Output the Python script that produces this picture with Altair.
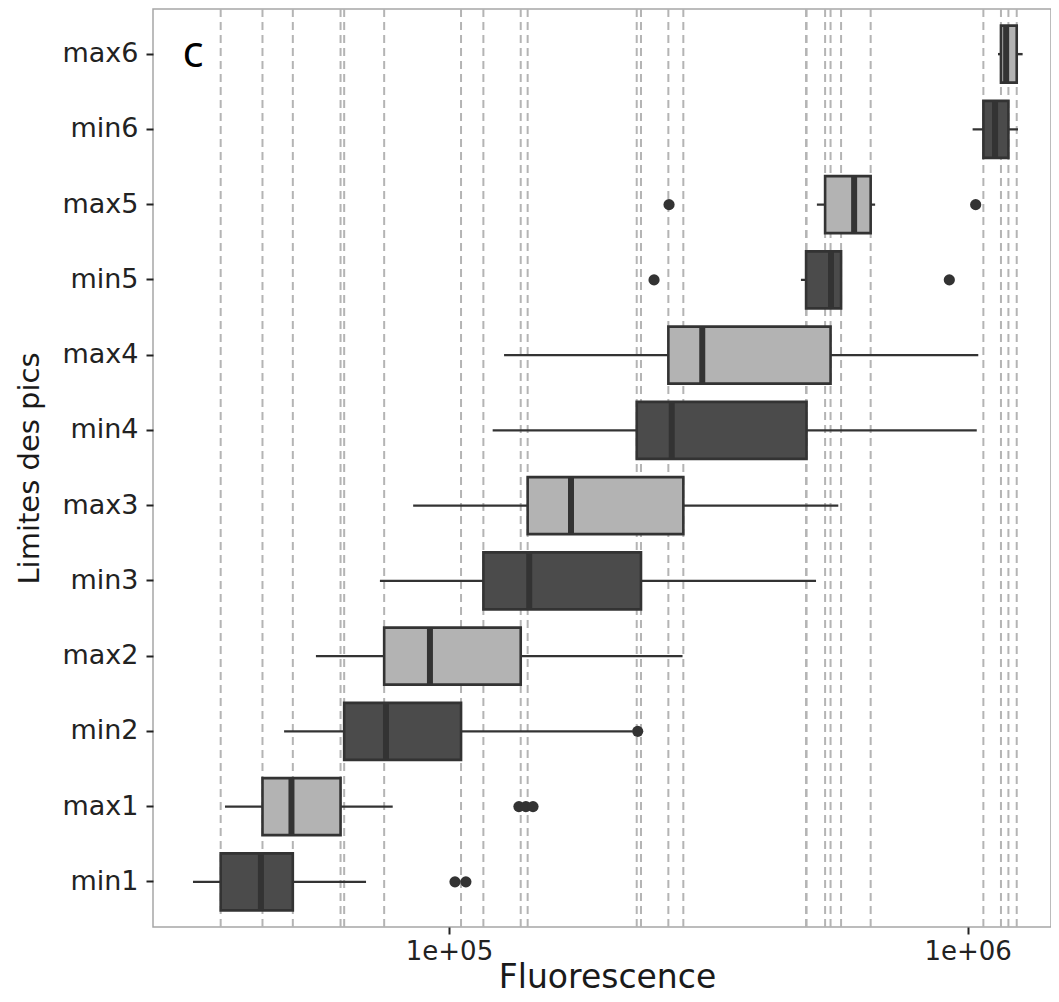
import altair as alt
import pandas as pd

# ---- data ----
categories = ["min1", "max1", "min2", "max2", "min3", "max3",
              "min4", "max4", "min5", "max5", "min6", "max6"]
groups = ["min", "max"] * 6
whisker_low = [32100, 37000, 48100, 55400, 73600, 85300,
               121400, 127700, 477000, 512000, 1022000, 1144000]
q1 = [36300, 43700, 62800, 75000, 116500, 141800,
      230100, 264800, 488000, 531000, 1072000, 1159000]
median = [43400, 49700, 75600, 91900, 142800, 171900,
          268800, 307800, 545000, 604000, 1129000, 1186000]
q3 = [50000, 61800, 105500, 137500, 234500, 283000,
      489000, 544000, 570000, 650000, 1198000, 1243000]
whisker_high = [69200, 77900, 226000, 282000, 510000, 563000,
                1041000, 1048000, 570000, 663000, 1250000, 1276000]

outlier_cat = ["min1", "min1", "max1", "max1", "max1", "min2",
               "min5", "min5", "max5", "max5"]
outlier_val = [102700, 107800, 136400, 140700, 145200, 231100,
               248500, 921600, 265600, 1036000]

x_ticks = [100000, 1000000]
x_tick_labels = ["1e+05", "1e+06"]

panel_label = ["c"]
panel_label_x = [32100]
panel_label_cat = ["max6"]

# ---- tables ----
box_df = pd.DataFrame({
    "cat": categories, "grp": groups, "low": whisker_low, "q1": q1,
    "med": median, "q3": q3, "high": whisker_high,
})
dash_df = pd.DataFrame({"v": q1 + q3})
out_df = pd.DataFrame({"cat": outlier_cat, "v": outlier_val})
lab_df = pd.DataFrame({"cat": panel_label_cat, "v": panel_label_x, "t": panel_label})

order = list(reversed(categories))

label_expr = "''"
for val, lab in reversed(list(zip(x_ticks, x_tick_labels))):
    label_expr = f"datum.value == {val} ? '{lab}' : {label_expr}"

FONT = "DejaVu Sans"
xscale = alt.Scale(type="log", domain=[26880, 1447300], nice=False)
yscale = alt.Scale(paddingInner=0, paddingOuter=0.1)

xaxis = alt.Axis(
    values=x_ticks, labelExpr=label_expr, title="Fluorescence", grid=False,
    domain=False, ticks=True, tickColor="#222222", tickWidth=2, tickSize=7,
    labelFont=FONT, labelFontSize=26, labelColor="#222222", labelPadding=4,
    titleFont=FONT, titleFontSize=33, titleFontWeight="normal", titleColor="#1a1a1a",
    titleX=454, titleY=60, titleAlign="center", titleBaseline="alphabetic",
)
yaxis = alt.Axis(
    title="Limites des pics", grid=False, domain=False, ticks=True,
    tickColor="#222222", tickWidth=2, tickSize=7,
    labelFont=FONT, labelFontSize=27, labelColor="#222222", labelPadding=8,
    titleFont=FONT, titleFontSize=29, titleFontWeight="normal", titleColor="#1a1a1a",
    titleX=-124, titleY=459, titleAlign="center", titleBaseline="middle", titleAngle=270,
)

Y = alt.Y("cat:N", sort=order, scale=yscale, axis=yaxis)

dashes = alt.Chart(dash_df).mark_rule(
    color="#b4b4b4", strokeDash=[8, 5], strokeWidth=2
).encode(x=alt.X("v:Q", scale=xscale, axis=xaxis))

base = alt.Chart(box_df)
whiskers = base.mark_rule(color="#333333", strokeWidth=2.4).encode(
    x=alt.X("low:Q", scale=xscale, axis=xaxis), x2="high:Q", y=Y)
boxes = base.mark_bar(size=57, stroke="#333333", strokeWidth=2.6).encode(
    x=alt.X("q1:Q", scale=xscale, axis=xaxis), x2="q3:Q", y=Y,
    color=alt.Color("grp:N", scale=alt.Scale(domain=["min", "max"],
                                             range=["#4b4b4b", "#b3b3b3"]),
                    legend=None))
medians = base.mark_tick(color="#333333", thickness=6, size=57, opacity=1).encode(
    x=alt.X("med:Q", scale=xscale, axis=xaxis), y=Y)
outliers = alt.Chart(out_df).mark_circle(size=125, color="#333333", opacity=1).encode(
    x=alt.X("v:Q", scale=xscale, axis=xaxis), y=Y)
label = alt.Chart(lab_df).mark_text(
    font="Open Sans", fontSize=44, color="#000000", align="center", baseline="middle"
).encode(x=alt.X("v:Q", scale=xscale, axis=xaxis), y=Y, text="t:N")

chart = alt.layer(dashes, whiskers, boxes, medians, outliers, label).properties(
    width=898, height=918,
    autosize=alt.AutoSizeParams(type="none"),
    padding={"left": 145, "top": 1, "right": 0, "bottom": 67},
    background="white",
).configure_view(stroke="#a6a6a6", strokeWidth=1.5)

chart.save("out.html", embed_options={"renderer": "svg", "actions": False})
